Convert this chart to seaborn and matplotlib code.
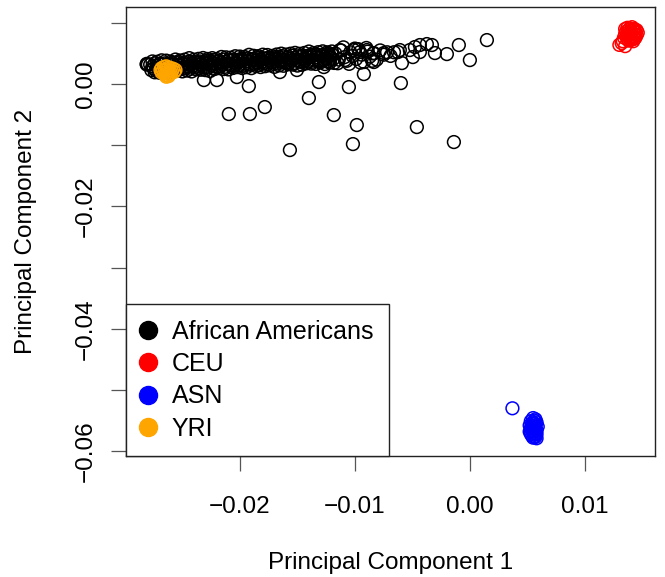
import matplotlib
matplotlib.use("Agg")
import matplotlib.pyplot as plt
from matplotlib.lines import Line2D
import numpy as np
import pandas as pd
import seaborn as sns

sns.set_style("white")
plt.rcParams["font.family"] = ["Liberation Sans", "DejaVu Sans"]
plt.rcParams["axes.unicode_minus"] = True
plt.rcParams["text.color"] = "black"
plt.rcParams["axes.labelcolor"] = "black"

# ---------------- data ----------------
groups = ["African Americans", "CEU", "ASN", "YRI"]
colors = ["#000000", "#FF0000", "#0000FF", "#FFA500"]

# dense band of African American samples
aa_band_x = [
    -0.0278, -0.0277, -0.0276, -0.0275, -0.0274, -0.0273, -0.0272, -0.0271, -0.0270, -0.0269,
    -0.0268, -0.0267, -0.0266, -0.0265, -0.0264, -0.0263, -0.0262, -0.0261, -0.0260, -0.0259,
    -0.0258, -0.0257, -0.0256, -0.0255, -0.0254, -0.0253, -0.0252, -0.0251, -0.0250, -0.0249,
    -0.0248, -0.0247, -0.0246, -0.0245, -0.0244, -0.0243, -0.0242, -0.0241, -0.0240, -0.0239,
    -0.0238, -0.0237, -0.0236, -0.0235, -0.0234, -0.0233, -0.0232, -0.0231, -0.0230, -0.0229,
    -0.0228, -0.0227, -0.0226, -0.0225, -0.0224, -0.0223, -0.0222, -0.0221, -0.0220, -0.0219,
    -0.0218, -0.0217, -0.0216, -0.0215, -0.0214, -0.0213, -0.0212, -0.0211, -0.0210, -0.0209,
    -0.0208, -0.0207, -0.0206, -0.0205, -0.0204, -0.0203, -0.0202, -0.0201, -0.0200, -0.0199,
    -0.0198, -0.0197, -0.0196, -0.0195, -0.0194, -0.0193, -0.0192, -0.0191, -0.0190, -0.0189,
    -0.0188, -0.0187, -0.0186, -0.0185, -0.0184, -0.0183, -0.0182, -0.0181, -0.0180, -0.0179,
    -0.0178, -0.0177, -0.0176, -0.0175, -0.0174, -0.0173, -0.0172, -0.0171, -0.0170, -0.0169,
    -0.0168, -0.0167, -0.0166, -0.0165, -0.0164, -0.0163, -0.0162, -0.0161, -0.0160, -0.0159,
    -0.0158, -0.0157, -0.0156, -0.0155, -0.0154, -0.0153, -0.0152, -0.0151, -0.0150, -0.0149,
    -0.0148, -0.0147, -0.0146, -0.0145, -0.0144, -0.0143, -0.0142, -0.0141, -0.0140, -0.0139,
    -0.0138, -0.0137, -0.0136, -0.0135, -0.0134, -0.0133, -0.0132, -0.0131, -0.0130, -0.0129,
    -0.0128, -0.0127, -0.0126, -0.0125, -0.0124, -0.0123, -0.0122, -0.0121, -0.0120, -0.0119,
]
aa_band_y = [
    0.00318, 0.00228, 0.00288, 0.00258, 0.00338, 0.00218, 0.00298, 0.00268, 0.00328, 0.00248,
    0.00249, 0.00319, 0.00229, 0.00339, 0.00289, 0.00269, 0.00329, 0.00239, 0.00309, 0.00349,
    0.00319, 0.00239, 0.00349, 0.00269, 0.00309, 0.00359, 0.00259, 0.00299, 0.00249, 0.00329,
    0.00350, 0.00260, 0.00320, 0.00290, 0.00370, 0.00250, 0.00330, 0.00300, 0.00360, 0.00280,
    0.00280, 0.00350, 0.00260, 0.00370, 0.00320, 0.00300, 0.00360, 0.00270, 0.00340, 0.00380,
    0.00351, 0.00271, 0.00381, 0.00301, 0.00341, 0.00391, 0.00291, 0.00331, 0.00281, 0.00361,
    0.00381, 0.00291, 0.00351, 0.00321, 0.00401, 0.00281, 0.00361, 0.00331, 0.00391, 0.00311,
    0.00312, 0.00382, 0.00292, 0.00402, 0.00352, 0.00332, 0.00392, 0.00302, 0.00372, 0.00412,
    0.00382, 0.00302, 0.00412, 0.00332, 0.00372, 0.00422, 0.00322, 0.00362, 0.00312, 0.00392,
    0.00413, 0.00323, 0.00383, 0.00353, 0.00433, 0.00313, 0.00393, 0.00363, 0.00423, 0.00343,
    0.00343, 0.00413, 0.00323, 0.00433, 0.00383, 0.00363, 0.00423, 0.00333, 0.00403, 0.00443,
    0.00414, 0.00334, 0.00444, 0.00364, 0.00404, 0.00454, 0.00354, 0.00394, 0.00344, 0.00424,
    0.00444, 0.00354, 0.00414, 0.00384, 0.00464, 0.00344, 0.00424, 0.00394, 0.00454, 0.00374,
    0.00375, 0.00445, 0.00355, 0.00465, 0.00415, 0.00395, 0.00455, 0.00365, 0.00435, 0.00475,
    0.00445, 0.00365, 0.00475, 0.00395, 0.00435, 0.00485, 0.00385, 0.00425, 0.00375, 0.00455,
    0.00476, 0.00386, 0.00446, 0.00416, 0.00496, 0.00376, 0.00456, 0.00426, 0.00486, 0.00406,
]
# upper and lower fringe of the band
aa_upper_x = [-0.0276, -0.0272, -0.0268, -0.0264, -0.0260, -0.0256, -0.0252, -0.0248, -0.0244, -0.0240,
              -0.0236, -0.0232, -0.0228, -0.0224, -0.0220, -0.0216, -0.0212, -0.0208, -0.0204, -0.0200,
              -0.0196, -0.0192, -0.0188, -0.0184, -0.0180, -0.0176, -0.0172, -0.0168, -0.0164, -0.0160,
              -0.0156, -0.0152, -0.0148, -0.0144, -0.0140, -0.0136, -0.0132, -0.0128, -0.0124, -0.0120]
aa_upper_y = [0.00370, 0.00364, 0.00388, 0.00383, 0.00367, 0.00401, 0.00385, 0.00399, 0.00424, 0.00398,
              0.00412, 0.00426, 0.00410, 0.00424, 0.00409, 0.00443, 0.00437, 0.00431, 0.00455, 0.00450,
              0.00444, 0.00478, 0.00462, 0.00456, 0.00480, 0.00475, 0.00459, 0.00483, 0.00497, 0.00481,
              0.00496, 0.00510, 0.00494, 0.00508, 0.00532, 0.00507, 0.00521, 0.00535, 0.00519, 0.00533]
aa_lower_x = [-0.0274, -0.0270, -0.0266, -0.0262, -0.0258, -0.0254, -0.0250, -0.0246, -0.0242, -0.0238,
              -0.0234, -0.0230, -0.0226, -0.0222, -0.0218, -0.0214, -0.0210, -0.0206, -0.0202, -0.0198,
              -0.0194, -0.0190, -0.0186, -0.0182, -0.0178, -0.0174, -0.0170, -0.0166, -0.0162, -0.0158,
              -0.0154, -0.0150, -0.0146, -0.0142, -0.0138, -0.0134, -0.0130, -0.0126, -0.0122, -0.0118]
aa_lower_y = [0.00192, 0.00186, 0.00210, 0.00185, 0.00209, 0.00223, 0.00207, 0.00221, 0.00206, 0.00240,
              0.00234, 0.00228, 0.00212, 0.00246, 0.00261, 0.00245, 0.00239, 0.00263, 0.00277, 0.00262,
              0.00276, 0.00260, 0.00294, 0.00278, 0.00292, 0.00307, 0.00281, 0.00305, 0.00299, 0.00323,
              0.00318, 0.00302, 0.00316, 0.00340, 0.00334, 0.00329, 0.00353, 0.00327, 0.00351, 0.00345]
# looser part of the band
aa_mid_x = [-0.0117, -0.0114, -0.0112, -0.0109, -0.0107, -0.0104, -0.0102, -0.0099, -0.0097, -0.0094,
            -0.0092, -0.0089, -0.0087, -0.0084, -0.0081, -0.0078, -0.0075, -0.0072, -0.0069, -0.0066,
            -0.0115, -0.0110, -0.0105, -0.0100, -0.0095, -0.0090, -0.0085]
aa_mid_y = [0.0050, 0.0040, 0.0055, 0.0044, 0.0038, 0.0052, 0.0046, 0.0041, 0.0057, 0.0048,
            0.0036, 0.0053, 0.0045, 0.0050, 0.0040, 0.0055, 0.0048, 0.0052, 0.0046, 0.0052,
            0.0034, 0.0060, 0.0033, 0.0058, 0.0035, 0.0059, 0.0038]
# individually visible samples
aa_out_x = [-0.0281, -0.0280, -0.0281, -0.01922, -0.02096, -0.01913, -0.01783, -0.01565,
            -0.01400, -0.01313, -0.01183, -0.01052, -0.00983, -0.01017, -0.00922, -0.00600,
            -0.00461, -0.00139, -0.00591, -0.00200, -0.00096, 0.0000, 0.00148, -0.00626,
            -0.00522, -0.00478, -0.00435, -0.00374, -0.00330, -0.00435, -0.00304, -0.00496,
            -0.02313, -0.02200, -0.02026, -0.01652, -0.01504, -0.01270, -0.00835, -0.00748,
            -0.00835, -0.01130, -0.01009, -0.00957, -0.00896, -0.00609, -0.01087, -0.01217,
            -0.01252]
aa_out_y = [0.0033, 0.0032, 0.0032, -0.00033, -0.00490, -0.00490, -0.00376, -0.01079,
            -0.00229, 0.00033, -0.00507, -0.00049, -0.00670, -0.00981, 0.00163, 0.00016,
            -0.00703, -0.00948, 0.00343, 0.00490, 0.00638, 0.00392, 0.00719, 0.00523,
            0.00556, 0.00605, 0.00638, 0.00654, 0.00638, 0.00523, 0.00507, 0.00441,
            0.00065, 0.00065, 0.00114, 0.00196, 0.00229, 0.00278, 0.00507, 0.00507,
            0.00360, 0.00556, 0.00556, 0.00523, 0.00556, 0.00556, 0.00392, 0.00360,
            0.00474]

ceu_x = [0.0135, 0.0137, 0.0139, 0.0141, 0.0143, 0.0145, 0.0136, 0.0138, 0.0140, 0.0142, 0.0144,
         0.0135, 0.0137, 0.0139, 0.0141, 0.0143, 0.0145, 0.0136, 0.0138, 0.0140, 0.0142, 0.0144,
         0.0137, 0.0139, 0.0141, 0.0143, 0.0138, 0.0140, 0.0142, 0.0130, 0.0132, 0.0135, 0.0133,
         0.0146, 0.0134]
ceu_y = [0.0090, 0.0092, 0.0091, 0.0093, 0.0090, 0.0088, 0.0086, 0.0088, 0.0087, 0.0089, 0.0085,
         0.0082, 0.0083, 0.0081, 0.0084, 0.0082, 0.0080, 0.0078, 0.0079, 0.0077, 0.0078, 0.0076,
         0.0074, 0.0075, 0.0073, 0.0074, 0.0071, 0.0072, 0.0070, 0.0064, 0.0067, 0.0062, 0.0070,
         0.0084, 0.0076]

asn_x = [0.0055, 0.0057, 0.0053, 0.0056, 0.0058, 0.0054, 0.0056, 0.0052, 0.0055, 0.0057,
         0.0059, 0.0053, 0.0055, 0.0057, 0.0054, 0.0056, 0.0058, 0.0052, 0.0055, 0.0057,
         0.0053, 0.0056, 0.0058, 0.0054, 0.0056, 0.0055, 0.0057, 0.0053, 0.0056, 0.0055,
         0.0058, 0.0054, 0.0037]
asn_y = [-0.0546, -0.0548, -0.0551, -0.0550, -0.0553, -0.0555, -0.0556, -0.0558, -0.0559, -0.0558,
         -0.0560, -0.0562, -0.0563, -0.0564, -0.0566, -0.0567, -0.0566, -0.0568, -0.0570, -0.0571,
         -0.0572, -0.0573, -0.0572, -0.0575, -0.0576, -0.0578, -0.0577, -0.0569, -0.0561, -0.0553,
         -0.0579, -0.0563, -0.0530]

yri_x = [-0.0268, -0.0266, -0.0264, -0.0262, -0.0260, -0.0258, -0.0267, -0.0265, -0.0263, -0.0261,
         -0.0259, -0.0257, -0.0268, -0.0266, -0.0264, -0.0262, -0.0260, -0.0265, -0.0263, -0.0261,
         -0.0264, -0.0262, -0.0256, -0.0269]
yri_y = [0.0026, 0.0028, 0.0029, 0.0027, 0.0026, 0.0025, 0.0022, 0.0023, 0.0024, 0.0022,
         0.0021, 0.0020, 0.0019, 0.0018, 0.0019, 0.0017, 0.0018, 0.0015, 0.0014, 0.0016,
         0.0012, 0.0013, 0.0023, 0.0023]

x_ticks = [-0.02, -0.01, 0.00, 0.01]
x_tick_labels = ["\u22120.02", "\u22120.01", "0.00", "0.01"]
y_ticks = [0.01, 0.00, -0.01, -0.02, -0.03, -0.04, -0.05, -0.06]
y_tick_labels = ["", "0.00", "", "\u22120.02", "", "\u22120.04", "", "\u22120.06"]

# ---------------- assemble ----------------
aa_x = aa_band_x + aa_upper_x + aa_lower_x + aa_mid_x + aa_out_x
aa_y = aa_band_y + aa_upper_y + aa_lower_y + aa_mid_y + aa_out_y
df = pd.DataFrame({
    "pc1": aa_x + ceu_x + asn_x + yri_x,
    "pc2": aa_y + ceu_y + asn_y + yri_y,
    "pop": ([groups[0]] * len(aa_x) + [groups[1]] * len(ceu_x)
            + [groups[2]] * len(asn_x) + [groups[3]] * len(yri_x)),
})

fig = plt.figure(figsize=(6.65, 5.77), dpi=100)
ax = fig.add_axes([0.1895, 0.2097, 0.7955, 0.7782])

for g, c in zip(groups, colors):
    sub = df[df["pop"] == g]
    sns.scatterplot(data=sub, x="pc1", y="pc2", ax=ax, s=84, marker="o",
                    color=c, linewidth=1.1, legend=False, zorder=3)
    coll = ax.collections[-1]
    coll.set_facecolor("none")
    coll.set_edgecolor(c)

ax.set_xlim(-0.0299, 0.0161)
ax.set_ylim(-0.0608, 0.0126)

ax.set_xticks(x_ticks)
ax.set_xticklabels(x_tick_labels)
ax.set_yticks(y_ticks)
ax.set_yticklabels(y_tick_labels)
for lab in ax.get_yticklabels():
    lab.set_rotation(90)
    lab.set_va("center")

ax.tick_params(axis="both", which="major", bottom=True, left=True, top=False, right=False,
               direction="out", length=11, width=0.9,
               color="#555555", labelsize=17.5, labelcolor="black")
ax.tick_params(axis="x", pad=17.5)
ax.tick_params(axis="y", pad=10)

for sp in ax.spines.values():
    sp.set_visible(True)
    sp.set_color("#222222")
    sp.set_linewidth(1.0)

ax.set_xlabel("Principal Component 1", fontsize=17.5, labelpad=25, color="black")
ax.set_ylabel("Principal Component 2", fontsize=17.5, labelpad=27, color="black")

handles = [Line2D([0], [0], marker="o", ls="", color=c, markersize=13) for c in colors]
leg = ax.legend(handles, groups, loc="lower left", bbox_to_anchor=(0, 0),
                borderaxespad=0, frameon=True, fancybox=False, framealpha=1,
                edgecolor="#222222", fontsize=18, handlelength=0.5,
                handletextpad=0.7, labelspacing=0.33, borderpad=0.62)
leg.get_frame().set_linewidth(1.0)
leg.set_zorder(5)
for t in leg.get_texts():
    t.set_color("black")

fig.savefig("out.png", dpi=100)
